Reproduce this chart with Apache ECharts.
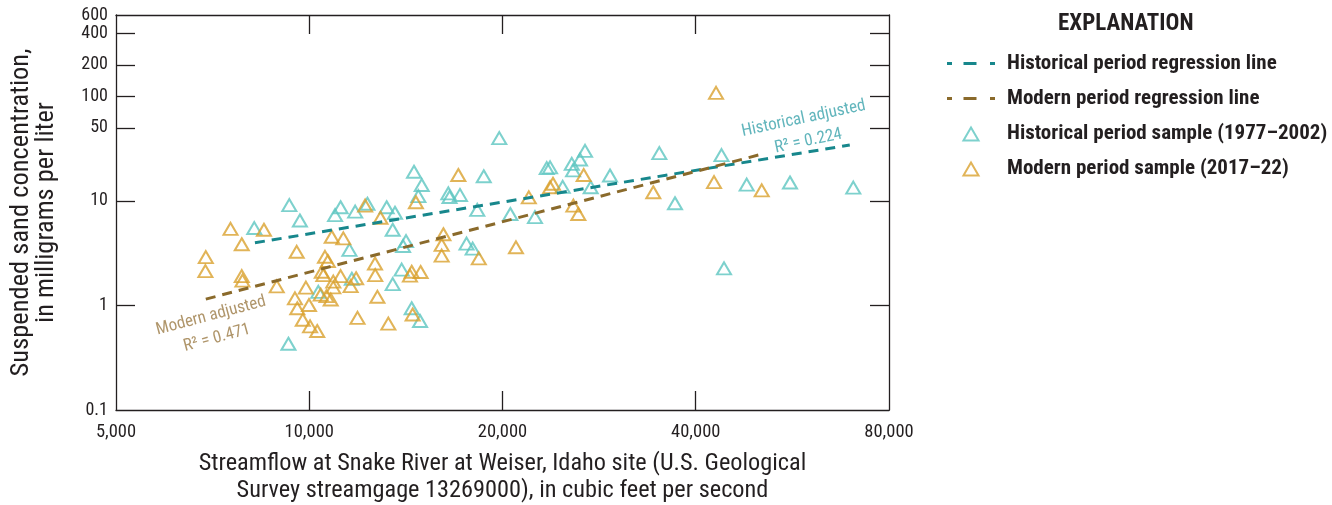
<!DOCTYPE html>
<html>
<head>
<meta charset="utf-8">
<script src="https://cdn.jsdelivr.net/npm/echarts@6/dist/echarts.min.js"></script>
<style>
  html, body { margin: 0; padding: 0; background: #ffffff; }
  #chart { width: 1332px; height: 505px; }
</style>
</head>
<body>
<div id="chart"></div>
<script>
// Streamflow (ft3/s) and suspended-sand concentration (mg/L) samples
const histFlow = [9310, 9670, 8210, 9280, 10330, 11190, 10970, 11790, 12320, 13200,
  13600, 13490, 11550, 14000, 13930, 13490, 11650, 14440, 14880, 14560,
  14970, 14790, 16470, 16540, 17170, 18270, 17580, 17970, 19770, 18700,
  20570, 22470, 23440, 23720, 24820, 25640, 25760, 26410, 26890, 27440,
  29410, 35100, 37130, 43870, 44270, 48020, 56090, 70380, 14150];
const histSand = [9.1, 6.5, 5.5, 0.43, 1.35, 8.7, 7.3, 7.9, 9.4, 8.7,
  7.7, 5.3, 3.4, 3.7, 2.2, 1.6, 1.8, 0.94, 0.71, 19.0,
  14.2, 11.1, 11.8, 10.9, 11.4, 8.2, 3.9, 3.5, 39.9, 17.2,
  7.5, 7.0, 20.6, 20.9, 13.6, 22.6, 19.6, 24.9, 30.1, 13.5,
  17.5, 28.6, 9.5, 27.4, 2.26, 14.3, 15.0, 13.4, 4.13];

const modFlow = [7540, 8500, 7850, 6900, 6890, 7850, 7870, 8900, 9560, 9880,
  10420, 9500, 9990, 9580, 10800, 9770, 10030, 10290, 10840, 11300,
  10580, 10690, 10460, 10520, 10900, 11190, 11830, 11600, 10900, 12660,
  12670, 12770, 11890, 13280, 12220, 12910, 14440, 14910, 14350, 14490,
  14660, 17070, 16180, 16080, 16080, 18370, 20990, 21980, 23970, 23720,
  25790, 26250, 26760, 34350, 42710, 43020, 50680, 10640];
const modSand = [5.4, 5.3, 3.85, 2.9, 2.13, 1.91, 1.73, 1.52, 3.26, 1.48,
  1.27, 1.17, 1.01, 0.94, 1.14, 0.73, 0.63, 0.57, 4.54, 4.38,
  2.92, 2.66, 2.1, 1.95, 1.69, 1.91, 1.82, 1.53, 1.49, 2.52,
  1.95, 1.21, 0.76, 0.67, 9.0, 6.9, 2.1, 2.09, 1.93, 0.82,
  9.7, 17.7, 4.8, 3.8, 3.0, 2.82, 3.6, 10.8, 14.6, 13.5,
  9.0, 7.5, 17.7, 12.1, 15.1, 108, 12.6, 1.23];

// Regression line end points (flow, concentration)
const histLineFlow = [8230, 69500];
const histLineSand = [3.98, 34.2];
const modLineFlow = [6900, 50700];
const modLineSand = [1.15, 28.0];

// Axis ticks and labels
const xTickValues = [10000, 20000, 40000];
const xLabelValues = [5000, 10000, 20000, 40000, 80000];
const yTickValues = [1, 10, 50, 100, 200, 400];
const yLabelValues = [0.1, 1, 10, 50, 100, 200, 400, 600];

// Regression annotations
const histNote = { flow: 59400, sand: 47.8, text: 'Historical adjusted\nR\u00b2 = 0.224' };
const modNote = { flow: 7106, sand: 0.622, text: 'Modern adjusted\nR\u00b2 = 0.471' };

const FONT = "'Liberation Sans Narrow', 'Roboto Condensed', Roboto, sans-serif";
const INK = '#231f20';
const TEAL_PT = '#5cc6c1';
const GOLD_PT = '#d9a12e';
const TEAL_LN = '#17878c';
const BROWN_LN = '#8a6a2b';

// Legend keys: short-long-short dash for the regression lines, open triangle for samples
const DASH_KEY = 'path://M0,0h5v3h-5z M16.5,0h13v3h-13z M43,0h5v3h-5z';
const TRI_KEY = 'path://M0,0M7,1L14,13L0,13Z';

const zip = (a, b) => a.map((v, i) => [v, b[i]]);
const fmtNum = v => {
  const n = Number(v);
  return n >= 1000 ? n.toLocaleString('en-US') : String(+n.toPrecision(6));
};

const axisLineStyle = { color: INK, width: 1.3 };

function xAxisDef(pos, withLabels) {
  return {
    type: 'log', logBase: 10, min: 5000, max: 80000, position: pos,
    axisLine: { show: true, onZero: false, lineStyle: axisLineStyle },
    axisTick: { show: true, inside: true, length: 19, customValues: xTickValues, lineStyle: axisLineStyle },
    axisLabel: withLabels ? {
      show: true, customValues: xLabelValues, formatter: fmtNum, margin: 13, hideOverlap: false,
      fontFamily: FONT, fontSize: 18.5, color: INK
    } : { show: false },
    splitLine: { show: false },
    minorTick: { show: false },
    name: withLabels ? 'Streamflow at Snake River at Weiser, Idaho site (U.S. Geological\nSurvey streamgage 13269000), in cubic feet per second' : '',
    nameLocation: 'middle', nameGap: 40,
    nameTextStyle: { fontFamily: FONT, fontSize: 24.3, color: INK, lineHeight: 27 }
  };
}

function yAxisDef(pos, withLabels) {
  return {
    type: 'log', logBase: 10, min: 0.1, max: 600, position: pos,
    axisLine: { show: true, onZero: false, lineStyle: axisLineStyle },
    axisTick: { show: true, inside: true, length: 19, customValues: yTickValues, lineStyle: axisLineStyle },
    axisLabel: withLabels ? {
      show: true, customValues: yLabelValues, formatter: fmtNum, margin: 8, hideOverlap: false,
      fontFamily: FONT, fontSize: 18, lineHeight: 16, color: INK
    } : { show: false },
    splitLine: { show: false },
    minorTick: { show: false },
    name: withLabels ? 'Suspended sand concentration,\nin milligrams per liter' : '',
    nameLocation: 'middle', nameGap: 57, nameRotate: 90,
    nameTextStyle: { fontFamily: FONT, fontSize: 26.5, color: INK, lineHeight: 25 }
  };
}

const chart = echarts.init(document.getElementById('chart'), null, { renderer: 'canvas' });

chart.setOption({
  animation: false,
  backgroundColor: '#ffffff',
  grid: { left: 116, right: 443, top: 15, bottom: 95, containLabel: false, outerBoundsMode: 'none' },
  title: {
    text: 'EXPLANATION', left: 1053, top: 8,
    textStyle: { fontFamily: FONT, fontWeight: 'bold', fontSize: 23, color: INK }
  },
  legend: {
    orient: 'vertical', left: 942, top: 48,
    itemWidth: 48, itemHeight: 14, itemGap: 14,
    selectedMode: false, symbolKeepAspect: true,
    data: [
      { name: 'Historical period regression line', icon: DASH_KEY },
      { name: 'Modern period regression line', icon: DASH_KEY },
      { name: 'Historical period sample (1977\u20132002)', icon: TRI_KEY },
      { name: 'Modern period sample (2017\u201322)', icon: TRI_KEY }
    ],
    textStyle: { fontFamily: FONT, fontWeight: 'bold', fontSize: 21, color: INK, lineHeight: 21, padding: [0, 0, 0, 7] }
  },
  xAxis: [xAxisDef('bottom', true), xAxisDef('top', false)],
  yAxis: [yAxisDef('left', true), yAxisDef('right', false)],
  series: [
    {
      name: 'Historical period regression line', type: 'line',
      data: zip(histLineFlow, histLineSand), symbol: 'none', silent: true, z: 3,
      lineStyle: { color: TEAL_LN, width: 3, type: [10, 7] },
      itemStyle: { color: TEAL_LN }
    },
    {
      name: 'Modern period regression line', type: 'line',
      data: zip(modLineFlow, modLineSand), symbol: 'none', silent: true, z: 3,
      lineStyle: { color: BROWN_LN, width: 3, type: [10, 7] },
      itemStyle: { color: BROWN_LN }
    },
    {
      name: 'Historical period sample (1977\u20132002)', type: 'scatter',
      data: zip(histFlow, histSand), symbol: 'triangle', symbolSize: [14, 12], z: 2,
      itemStyle: { color: 'rgba(255,255,255,0)', borderColor: TEAL_PT, borderWidth: 2 }
    },
    {
      name: 'Modern period sample (2017\u201322)', type: 'scatter',
      data: zip(modFlow, modSand), symbol: 'triangle', symbolSize: [14, 12], z: 2,
      itemStyle: { color: 'rgba(255,255,255,0)', borderColor: GOLD_PT, borderWidth: 2 }
    },
    {
      name: 'notes', type: 'scatter', silent: true, symbolSize: 0, z: 4,
      data: [
        { value: [histNote.flow, histNote.sand], label: { formatter: histNote.text, color: '#3aa3ab', rotate: 12 } },
        { value: [modNote.flow, modNote.sand], label: { formatter: modNote.text, color: '#9b7b45', rotate: 15 } }
      ],
      label: { show: true, position: 'inside', align: 'center', verticalAlign: 'middle',
        fontFamily: FONT, fontSize: 17, lineHeight: 23 }
    }
  ]
});
</script>
</body>
</html>
